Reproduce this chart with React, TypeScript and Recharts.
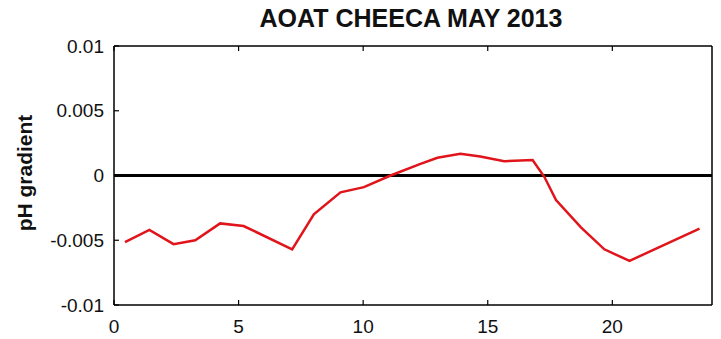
import { LineChart, Line, XAxis, YAxis, ReferenceLine } from 'recharts'

const hours = [0.44, 1.42, 2.39, 3.26, 4.26, 5.2, 7.15, 8.02, 9.09, 10.03, 11.1, 12.3, 12.98, 13.9, 14.7, 15.66, 16.8, 17.27, 17.74, 18.74, 19.68, 20.69, 21.69, 23.5]
const gradient = [-0.00515, -0.0042, -0.0053, -0.005, -0.0037, -0.0039, -0.0057, -0.003, -0.0013, -0.0009, 0, 0.0009, 0.00137, 0.00167, 0.00147, 0.0011, 0.0012, -0.0001, -0.0019, -0.004, -0.0057, -0.0066, -0.0057, -0.0041]
const xTicks = [0, 5, 10, 15, 20]
const yTicks = [-0.01, -0.005, 0, 0.005, 0.01]
const yTickLabels = ['-0.01', '-0.005', '0', '0.005', '0.01']

const data = hours.map((h, i) => ({ h, g: gradient[i] }))

const FONT = '"Liberation Sans", Arial, sans-serif'
const TICK_LEN = 5

function LeftTick({ x, y, index }: any) {
  return (
    <g>
      <line x1={x} y1={y} x2={x + TICK_LEN} y2={y} stroke="#000" strokeWidth={1.2} />
      <text x={x - 10} y={y} dy="0.35em" textAnchor="end" fontFamily={FONT} fontSize={19} fill="#111">
        {yTickLabels[index]}
      </text>
    </g>
  )
}

function RightTick({ x, y }: any) {
  return <line x1={x} y1={y} x2={x - TICK_LEN} y2={y} stroke="#000" strokeWidth={1.2} />
}

function BottomTick({ x, y, payload }: any) {
  return (
    <g>
      <line x1={x} y1={y} x2={x} y2={y - TICK_LEN} stroke="#000" strokeWidth={1.2} />
      <text x={x} y={y + 28} textAnchor="middle" fontFamily={FONT} fontSize={19} fill="#111">
        {payload.value}
      </text>
    </g>
  )
}

function TopTick({ x, y }: any) {
  return <line x1={x} y1={y} x2={x} y2={y + TICK_LEN} stroke="#000" strokeWidth={1.2} />
}

export default function App() {
  return (
    <div style={{ position: 'absolute', left: 0, top: 0, width: 721, height: 339, background: '#fff' }}>
      <svg width={721} height={339} style={{ position: 'absolute', left: 0, top: 0, pointerEvents: 'none' }}>
        <text x={411} y={27} textAnchor="middle" fontFamily={FONT} fontWeight="bold" fontSize={25} fill="#111">
          AOAT CHEECA MAY 2013
        </text>
        <text
          x={0}
          y={0}
          transform="translate(32,173) rotate(-90)"
          textAnchor="middle"
          fontFamily={FONT}
          fontWeight="bold"
          fontSize={21}
          fill="#111"
        >
          pH gradient
        </text>
      </svg>
      <LineChart
        width={721}
        height={339}
        data={data}
        margin={{ top: 45, right: 8, bottom: 0, left: 0 }}
        style={{ position: 'absolute', left: 0, top: 0 }}
      >
        <XAxis
          xAxisId="bottom"
          dataKey="h"
          type="number"
          domain={[0, 24]}
          ticks={xTicks}
          orientation="bottom"
          height={34}
          tickSize={0}
          tickMargin={0}
          tick={BottomTick}
          axisLine={{ stroke: '#000', strokeWidth: 1.5 }}
          tickLine={false}
        />
        <XAxis
          xAxisId="top"
          dataKey="h"
          type="number"
          domain={[0, 24]}
          ticks={xTicks}
          orientation="top"
          height={1}
          tickSize={0}
          tickMargin={0}
          tick={TopTick}
          axisLine={{ stroke: '#000', strokeWidth: 1.5 }}
          tickLine={false}
        />
        <YAxis
          yAxisId="left"
          type="number"
          domain={[-0.01, 0.01]}
          ticks={yTicks}
          orientation="left"
          width={114}
          tickSize={0}
          tickMargin={0}
          tick={LeftTick}
          axisLine={{ stroke: '#000', strokeWidth: 1.5 }}
          tickLine={false}
        />
        <YAxis
          yAxisId="right"
          type="number"
          domain={[-0.01, 0.01]}
          ticks={yTicks}
          orientation="right"
          width={1}
          tickSize={0}
          tickMargin={0}
          tick={RightTick}
          axisLine={{ stroke: '#000', strokeWidth: 1.5 }}
          tickLine={false}
        />
        <ReferenceLine xAxisId="bottom" yAxisId="left" y={0} stroke="#000" strokeWidth={3} />
        <Line
          xAxisId="bottom"
          yAxisId="left"
          type="linear"
          dataKey="g"
          stroke="#e0141a"
          strokeWidth={2.5}
          dot={false}
          isAnimationActive={false}
        />
      </LineChart>
    </div>
  )
}
